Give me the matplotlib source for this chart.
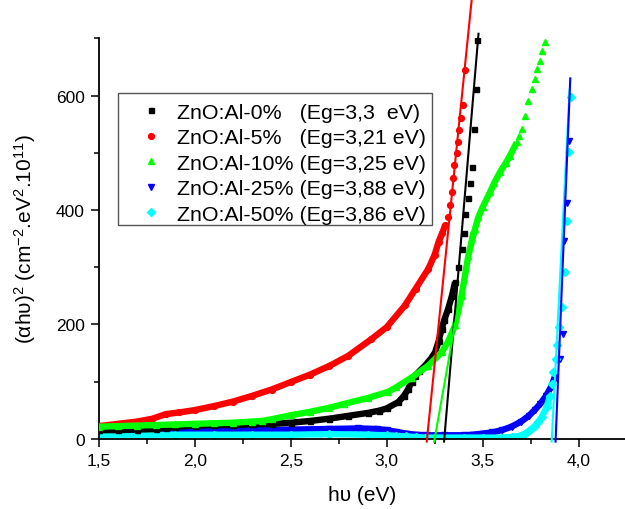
import matplotlib
matplotlib.use("Agg")
import matplotlib.pyplot as plt
from matplotlib.patches import Rectangle
from matplotlib.ticker import MultipleLocator, FuncFormatter

plt.rcParams["font.family"] = ["Liberation Sans", "DejaVu Sans"]
plt.rcParams["mathtext.fontset"] = "custom"
plt.rcParams["mathtext.rm"] = "Liberation Sans"
plt.rcParams["mathtext.it"] = "Liberation Sans:italic"
plt.rcParams["mathtext.default"] = "rm"

# ---- (alpha h nu)^2 versus photon energy, ZnO:Al films ----
# Continuous part of each curve (densely sampled)
e_al0 = [1.50, 1.60, 1.70, 1.80, 1.85, 1.90, 2.00, 2.10, 2.20, 2.30, 2.40, 2.50, 2.60, 2.70,
         2.80, 2.90, 2.96, 3.00, 3.06, 3.09, 3.112, 3.13, 3.147, 3.17, 3.20, 3.23, 3.252,
         3.27, 3.286, 3.30, 3.32, 3.34, 3.356]
v_al0 = [15, 15, 16, 17, 19, 21, 23, 24, 24, 25, 26, 28, 31, 35,
         40, 45, 49, 53, 64, 75, 87, 100, 110, 118, 128, 140, 151,
         170, 192, 208, 227, 250, 274]
e_al5 = [1.50, 1.60, 1.70, 1.78, 1.85, 1.92, 2.00, 2.10, 2.20, 2.30, 2.40, 2.50, 2.60, 2.70,
         2.80, 2.92, 3.00, 3.095, 3.15, 3.217, 3.25, 3.27, 3.29, 3.304]
v_al5 = [22, 26, 30, 35, 43, 46, 50, 57, 65, 75, 86, 99, 112, 127,
         145, 174, 195, 233, 262, 297, 322, 344, 360, 373]
e_al10 = [1.50, 1.60, 1.70, 1.80, 1.90, 2.00, 2.10, 2.20, 2.30, 2.35, 2.40, 2.50, 2.60, 2.70,
          2.78, 2.90, 3.008, 3.05, 3.13, 3.217, 3.286, 3.32, 3.356, 3.39, 3.425, 3.46, 3.477,
          3.50, 3.538, 3.56, 3.59, 3.62, 3.642, 3.677]
v_al10 = [21, 22, 23, 24, 25, 26, 27, 28, 30, 31, 34, 41, 47, 54,
          61, 71, 82, 90, 107, 128, 151, 170, 198, 250, 320, 367, 387,
          405, 431, 447, 466, 482, 495, 518]
e_al25 = [1.50, 1.70, 1.90, 2.10, 2.30, 2.50, 2.70, 2.85, 2.95, 3.00, 3.05, 3.10, 3.15, 3.20,
          3.30, 3.40, 3.45, 3.50, 3.55, 3.60, 3.65, 3.70, 3.74, 3.77, 3.80, 3.83, 3.86, 3.877]
v_al25 = [12, 13, 14, 15, 15, 16, 17, 18, 17, 15, 12, 9, 7, 6,
          6, 6, 7, 9, 11, 15, 21, 30, 40, 50, 61, 75, 93, 110]
e_al50 = [1.50, 1.70, 1.90, 2.10, 2.30, 2.50, 2.70, 2.90, 3.00, 3.05, 3.10, 3.15, 3.20, 3.30,
          3.40, 3.50, 3.60, 3.65, 3.694, 3.72, 3.746, 3.77, 3.79, 3.807, 3.833, 3.85]
v_al50 = [7, 7, 7, 7, 7, 7, 8, 7, 6, 5, 4, 3, 2, 2,
          2, 2, 2, 3, 5, 9, 15, 22, 30, 38, 55, 75]

# Steep part of each curve, where single points are resolved
e_al0_top = [3.37, 3.39, 3.40, 3.41, 3.425, 3.434, 3.446, 3.456, 3.465, 3.469]
v_al0_top = [300, 332, 360, 393, 421, 447, 475, 542, 612, 697]
e_al5_top = [3.321, 3.33, 3.338, 3.345, 3.35, 3.365, 3.371, 3.378, 3.387, 3.396, 3.408]
v_al5_top = [387, 409, 431, 455, 478, 499, 519, 540, 561, 584, 645]
e_al10_top = [3.69, 3.703, 3.72, 3.738, 3.755, 3.772, 3.781, 3.798, 3.81, 3.825]
v_al10_top = [530, 542, 565, 591, 612, 629, 647, 661, 677, 693]
e_al25_top = [3.905, 3.917, 3.925, 3.937, 3.949]
v_al25_top = [140, 183, 346, 412, 521]
e_al50_top = [3.859, 3.867, 3.88, 3.888, 3.899, 3.911, 3.929, 3.937, 3.949, 3.958]
v_al50_top = [95, 116, 139, 163, 195, 230, 291, 381, 502, 598]

# Band-gap values and linear fits of the absorption edge
labels = ["ZnO:Al-0%   (Eg=3,3  eV)", "ZnO:Al-5%   (Eg=3,21 eV)", "ZnO:Al-10% (Eg=3,25 eV)",
          "ZnO:Al-25% (Eg=3,88 eV)", "ZnO:Al-50% (Eg=3,86 eV)"]
eg = [3.30, 3.21, 3.25, 3.88, 3.86]
fit_slope = [3977, 3300, 1900, 8290, 6600]
fit_top = [708, 770, 360, 630, 610]

colors = ["#000000", "#ff0000", "#00ff00", "#0000ff", "#00ffff"]
markers = ["s", "o", "^", "v", "D"]
msizes = [3.6, 4.2, 4.4, 4.2, 3.6]
zorders = [3, 4, 5, 1, 2]

low = [(e_al0, v_al0), (e_al5, v_al5), (e_al10, v_al10), (e_al25, v_al25), (e_al50, v_al50)]
top = [(e_al0_top, v_al0_top), (e_al5_top, v_al5_top), (e_al10_top, v_al10_top),
       (e_al25_top, v_al25_top), (e_al50_top, v_al50_top)]

W, H = 625, 510
fig = plt.figure(figsize=(W / 100, H / 100), dpi=100)
ax = fig.add_axes([0.1579, 0.1378, 0.8421, 0.7851])

handles = []
for i in range(5):
    ax.plot(low[i][0], low[i][1], color=colors[i], lw=4.6, marker=markers[i],
            ms=msizes[i], solid_joinstyle="round", solid_capstyle="butt", zorder=zorders[i])
    h, = ax.plot(top[i][0], top[i][1], ls="none", color=colors[i], marker=markers[i],
                 ms=msizes[i], mec=colors[i], zorder=zorders[i])
    handles.append(h)

# Tangent lines extrapolated to the energy axis
for i in range(5):
    v0, v1 = -5, fit_top[i]
    ax.plot([eg[i] + v0 / fit_slope[i], eg[i] + v1 / fit_slope[i]], [v0, v1],
            color=colors[i], lw=1.5, clip_on=False, zorder=10 + (i == 3))

ax.set_xlim(1.5, 4.241)
ax.set_ylim(0, 700)
for s in ["top", "right"]:
    ax.spines[s].set_visible(False)
for s in ["left", "bottom"]:
    ax.spines[s].set_linewidth(1.3)

ax.xaxis.set_major_locator(MultipleLocator(0.5))
ax.xaxis.set_minor_locator(MultipleLocator(0.25))
ax.yaxis.set_major_locator(MultipleLocator(200))
ax.yaxis.set_minor_locator(MultipleLocator(100))
ax.xaxis.set_major_formatter(FuncFormatter(lambda x, _: f"{x:.1f}".replace(".", ",")))
ax.yaxis.set_major_formatter(FuncFormatter(lambda y, _: f"{y:.0f}"))
ax.tick_params(which="major", direction="out", length=6, width=1.1, labelsize=12.5, pad=4)
ax.tick_params(which="minor", direction="out", length=3.5, width=1.1)

ax.set_xlabel("h\u03c5 (eV)", fontsize=15)
ax.set_ylabel("(\u03b1h\u03c5)$^2$ (cm$^{-2}$.eV$^2$.10$^{11}$)", fontsize=15)
ax.xaxis.set_label_coords(0.5, -0.115)
ax.yaxis.set_label_coords(-0.115, 0.5)

# Legend entries, with a plain rectangular frame drawn around them
leg = ax.legend(handles, labels, loc="upper left", bbox_to_anchor=(118.3 / W, 1 - 94.3 / H),
                bbox_transform=fig.transFigure, borderaxespad=0, fontsize=15.4, frameon=False,
                numpoints=1, borderpad=0.45, handlelength=2.2, handletextpad=0.1,
                labelspacing=0.3)
leg.set_zorder(20)
frame = Rectangle((118.3 / W, 1 - 225.7 / H), (431.7 - 118.3) / W, (225.7 - 94.3) / H,
                  transform=fig.transFigure, facecolor="white", edgecolor="#555555",
                  linewidth=1.0, zorder=19, clip_on=False)
ax.add_patch(frame)

fig.savefig("out.png", dpi=100)
